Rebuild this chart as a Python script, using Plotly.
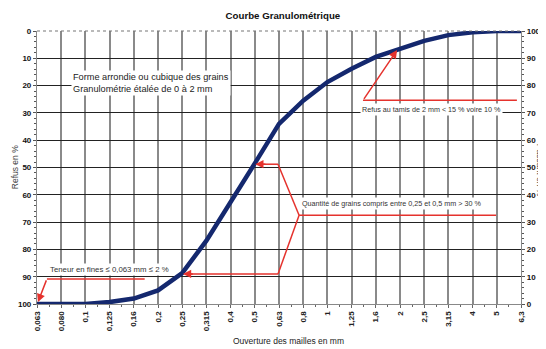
import plotly.graph_objects as go

# ---- data ----
sieve_labels = ["0,063", "0,080", "0,1", "0,125", "0,16", "0,2", "0,25", "0,315", "0,4", "0,5",
                "0,63", "0,8", "1", "1,25", "1,6", "2", "2,5", "3,15", "4", "5", "6,3"]
sieve_pos = list(range(len(sieve_labels)))
refus = [100, 100, 100, 99.3, 98, 95, 88.7, 76.8, 63, 48.5,
         34, 25.5, 18.7, 13.8, 9.5, 6.6, 3.6, 1.5, 0.5, 0, 0]
passant = [100 - r for r in refus]

left_ticks = [0, 10, 20, 30, 40, 50, 60, 70, 80, 90, 100]
right_ticks = [0, 10, 20, 30, 40, 50, 60, 70, 80, 90, 100]

RED = "#e5322d"
NAVY = "#14286e"
FONT = "Liberation Sans"

fig = go.Figure()
fig.add_trace(go.Scatter(x=sieve_pos, y=refus, mode="lines",
                         line=dict(color=NAVY, width=4.5), yaxis="y",
                         hoverinfo="skip", showlegend=False))
fig.add_trace(go.Scatter(x=sieve_pos, y=passant, mode="lines",
                         line=dict(color="rgba(0,0,0,0)", width=0), yaxis="y2",
                         hoverinfo="skip", showlegend=False))

# red annotation paths (index units on x, refus % on y)
paths = [
    # Refus au tamis de 2 mm
    [(19.83, 25.4), (13.47, 25.4)],
    # Quantité de grains 0,25-0,5
    [(9.1, 48.8), (9.96, 48.8), (10.83, 67.5), (9.96, 89.0), (6.1, 89.0)],
    [(10.83, 67.5), (18.97, 67.5)],
    # Teneur en fines
    [(4.45, 90.8), (0.41, 90.8)],
]
for p in paths:
    for (x0, y0), (x1, y1) in zip(p[:-1], p[1:]):
        fig.add_shape(type="line", xref="x", yref="y", x0=x0, y0=y0, x1=x1, y1=y1,
                      line=dict(color=RED, width=1.5), layer="above")

arrows = [
    ((13.47, 25.4), (14.88, 7.0)),
    ((9.5, 48.8), (9.02, 48.8)),
    ((6.5, 89.0), (6.03, 89.0)),
    ((0.41, 90.8), (0.04, 99.3)),
]
for (ax, ay), (x, y) in arrows:
    fig.add_annotation(x=x, y=y, ax=ax, ay=ay, xref="x", yref="y", axref="x", ayref="y",
                       showarrow=True, arrowhead=2, arrowsize=1.1, arrowwidth=1.5,
                       arrowcolor=RED, text="")

texts = [
    (16.3, 28.8, "Refus au tamis de 2 mm &lt; 15 % voire 10 %", 7.2),
    (14.65, 63.3, "Quantité de grains compris entre 0,25 et 0,5 mm &gt; 30 %", 7.2),
    (3.0, 87.2, "Teneur en fines ≤ 0,063 mm ≤ 2 %", 7.8),
]
for x, y, t, fs in texts:
    fig.add_annotation(x=x, y=y, xref="x", yref="y", text=t, showarrow=False,
                       xanchor="center", yanchor="middle", bgcolor="white",
                       font=dict(family=FONT, size=fs, color="#333"), borderpad=1)

fig.add_annotation(x=1.4, y=18.9, xref="x", yref="y",
                   text="Forme arrondie ou cubique des grains<br>Granulométrie étalée de 0 à 2 mm",
                   showarrow=False, xanchor="left", yanchor="middle", align="left",
                   bgcolor="white", font=dict(family=FONT, size=9.2, color="#222"))

# axis titles
fig.add_annotation(x=-0.046, y=0.5, xref="paper", yref="paper", text="Refus en %",
                   textangle=-90, showarrow=False, xanchor="center", yanchor="middle",
                   font=dict(family=FONT, size=8.5, color="#444"))
fig.add_annotation(x=1.038, y=0.49, xref="paper", yref="paper", text="Passant en %",
                   textangle=90, showarrow=False, xanchor="center", yanchor="middle",
                   font=dict(family=FONT, size=8.5, color="#444"))
fig.add_annotation(x=0.52, y=-0.11, xref="paper", yref="paper",
                   text="Ouverture des mailles en mm", showarrow=False,
                   xanchor="center", yanchor="top",
                   font=dict(family=FONT, size=8.5, color="#222"))

# dotted top border
fig.add_shape(type="line", xref="paper", yref="paper", x0=0, x1=1, y0=1, y1=1,
              line=dict(color="#777", width=1.2, dash="dot"), layer="above")

fig.update_layout(
    width=538, height=341,
    margin=dict(l=29, r=25, t=23, b=45, autoexpand=False),
    paper_bgcolor="white", plot_bgcolor="white",
    font=dict(family=FONT, color="#222"),
    title=dict(text="<b>Courbe Granulométrique</b>", x=0.511, xanchor="center",
               y=0.979, yanchor="middle", font=dict(family=FONT, size=9.7, color="#111")),
    xaxis=dict(range=[0, 20], tickmode="array", tickvals=sieve_pos, ticktext=sieve_labels,
               tickangle=-90, tickfont=dict(family=FONT, size=8, color="#222", weight="bold"),
               automargin=False,
               showgrid=True, gridcolor="#8a8a8a", gridwidth=1.6,
               showline=True, linecolor="#888", linewidth=1.2, mirror=False,
               ticks="outside", ticklen=3, tickcolor="#666", zeroline=False,
               minor=dict(tickmode="array", tickvals=[i + 0.5 for i in sieve_pos[:-1]],
                          ticks="outside", ticklen=2, tickcolor="#666", showgrid=False)),
    yaxis=dict(range=[100, 0], tickmode="array", tickvals=left_ticks,
               tickfont=dict(family=FONT, size=8, color="#111", weight="bold"), automargin=False,
               showgrid=True, gridcolor="#222", gridwidth=1,
               showline=True, linecolor="#888", linewidth=1.2,
               ticks="outside", ticklen=3, tickcolor="#555", zeroline=False,
               minor=dict(dtick=2, ticks="outside", ticklen=2, tickcolor="#555", showgrid=False)),
    yaxis2=dict(range=[0, 100], overlaying="y", side="right", tickmode="array",
                tickvals=right_ticks, tickfont=dict(family=FONT, size=8, color="#111", weight="bold"),
                automargin=False,
                showgrid=False, showline=True, linecolor="#888", linewidth=1.2,
                ticks="outside", ticklen=3, tickcolor="#555", zeroline=False,
                minor=dict(dtick=2, ticks="outside", ticklen=2, tickcolor="#555")),
)

fig.write_html("out.html")
